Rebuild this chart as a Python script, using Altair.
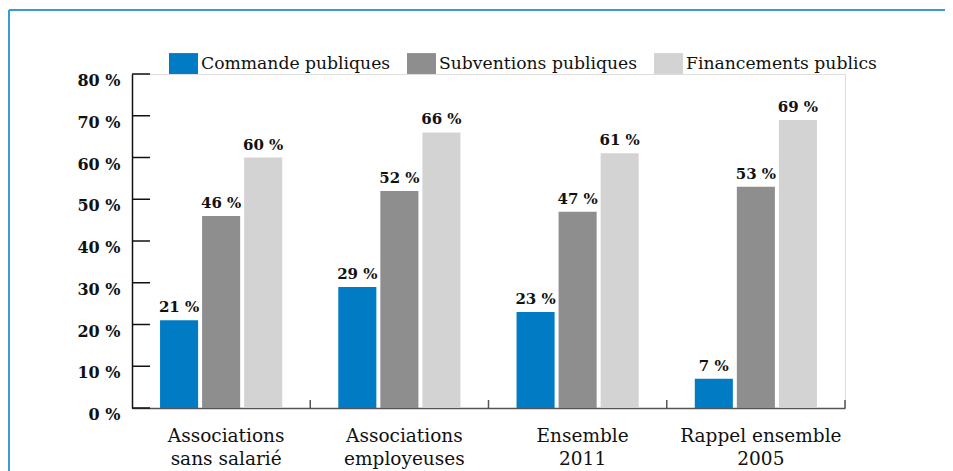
import altair as alt
import pandas as pd

groups = ["Associations|sans salarié", "Associations|employeuses", "Ensemble|2011", "Rappel ensemble|2005"]
series = ["Commande publiques", "Subventions publiques", "Financements publics"]
commande = [21, 29, 23, 7]
subventions = [46, 52, 47, 53]
financements = [60, 66, 61, 69]
y_ticks = [0, 10, 20, 30, 40, 50, 60, 70, 80]
colors = ["#007bc4", "#8e8e8e", "#d3d3d3"]

rows = []
for s, vals in zip(series, [commande, subventions, financements]):
    for g, v in zip(groups, vals):
        rows.append({"group": g, "series": s, "value": v, "label": f"{v} %"})
df = pd.DataFrame(rows)

FONT = "DejaVu Serif"

x_enc = alt.X("group:N", sort=groups,
              scale=alt.Scale(paddingInner=0, paddingOuter=0),
              axis=alt.Axis(title=None, labelAngle=0, ticks=False,
                            labelExpr="split(datum.value, '|')",
                            labelFont=FONT, labelFontSize=18.5, labelColor="#111",
                            labelLineHeight=23, labelPadding=18, labelOffset=5,
                            domainColor="#555", domainWidth=1.5))
y_enc = alt.Y("value:Q", scale=alt.Scale(domain=[0, 80], nice=False),
              axis=alt.Axis(title=None, values=y_ticks, grid=False, ticks=False,
                            labelExpr="datum.value + ' %'", labelFont=FONT,
                            labelFontSize=16, labelFontWeight="bold", labelColor="#111",
                            labelPadding=12, labelBaseline="top", labelOffset=-1.5,
                            domainColor="#111", domainWidth=1.5))
xoff = alt.XOffset("series:N", sort=series,
                   scale=alt.Scale(paddingInner=0.095, paddingOuter=0.667))

bars = alt.Chart(df).mark_bar().encode(
    x=x_enc, y=y_enc, xOffset=xoff,
    color=alt.Color("series:N", sort=series,
                    scale=alt.Scale(domain=series, range=colors),
                    legend=alt.Legend(title=None, orient="none", direction="horizontal",
                                      legendX=37, legendY=-25, padding=0,
                                      symbolType="M-1,-0.72H1V0.72H-1Z", symbolSize=841,
                                      symbolStrokeWidth=0, symbolOpacity=1,
                                      labelFont=FONT, labelFontSize=17.2, labelColor="#111",
                                      labelOffset=3, columnPadding=16, labelLimit=400)),
)

texts = alt.Chart(df).mark_text(dy=-8, baseline="alphabetic", font=FONT, fontSize=15,
                                fontWeight="bold", color="#111").encode(
    x=alt.X("group:N", sort=groups), y=alt.Y("value:Q"), xOffset=xoff,
    text="label:N",
)

tick_df = pd.DataFrame({"v": y_ticks})
yticks = alt.Chart(tick_df).mark_rule(color="#111", strokeWidth=1.5).encode(
    y=alt.Y("v:Q"), x=alt.value(0), x2=alt.value(18)
)

grp_df = pd.DataFrame({"group": groups})
xticks = alt.Chart(grp_df).mark_rule(color="#555", strokeWidth=1.5).encode(
    x=alt.X("group:N", sort=groups, bandPosition=1),
    y=alt.value(334), y2=alt.value(326)
)

one = pd.DataFrame({"a": [0]})
frame_left = alt.Chart(one).mark_rule(color="#3a9ad9", strokeWidth=2).encode(
    x=alt.value(-123), y=alt.value(-64), y2=alt.value(420)
)
frame_top = alt.Chart(one).mark_rule(color="#3a9ad9", strokeWidth=2).encode(
    x=alt.value(-123), x2=alt.value(900), y=alt.value(-64)
)

chart = alt.layer(frame_left, frame_top, bars, texts, yticks, xticks).properties(
    width=713, height=334,
    autosize=alt.AutoSizeParams(type="none"),
    padding={"left": 124, "top": 66, "right": 100, "bottom": 63},
).configure_view(stroke=None).configure(background="white")

chart.save("out.html", embed_options={"renderer": "svg", "actions": False})
